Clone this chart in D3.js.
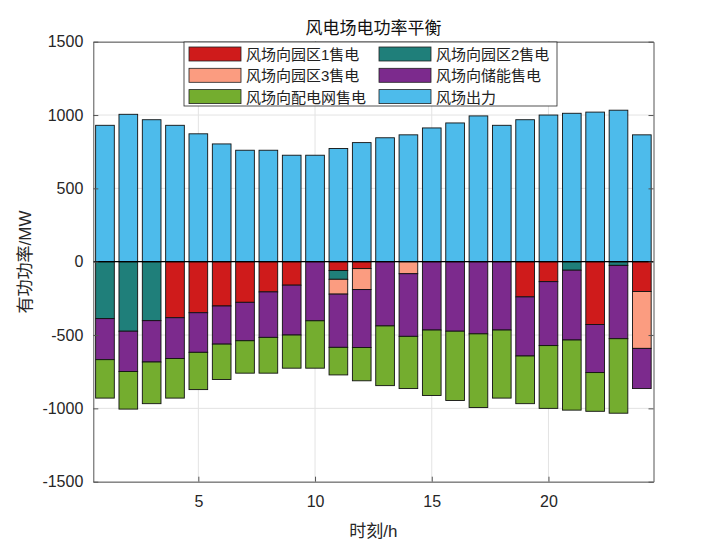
<!DOCTYPE html>
<html>
<head>
<meta charset="utf-8">
<script src="https://cdn.jsdelivr.net/npm/d3@7"></script>
<style>
  body { margin: 0; background: #fff; }
  svg { font-family: 'Liberation Sans', 'Noto Sans CJK SC', sans-serif; }
</style>
</head>
<body>
<svg id="chart"></svg>
<script>
// hours on the x axis
const hours = d3.range(1, 25)

// wind farm output (MW), drawn above zero
const windOut = [930, 1005, 968, 930, 872, 803, 760, 760, 726, 726, 772, 812,
  845, 865, 912, 946, 994, 930, 968, 1000, 1012, 1020, 1033, 865]

// sales from the wind farm (MW), drawn below zero in this order
const toPark1 = [0, 0, 0, 382, 348, 302, 277, 206, 160, 0, 60, 47,
  0, 0, 0, 0, 0, 0, 240, 136, 0, 428, 0, 203]
const toPark2 = [388, 474, 402, 0, 0, 0, 0, 0, 0, 0, 60, 0,
  0, 0, 0, 0, 0, 0, 0, 0, 58, 0, 25, 0]
const toPark3 = [0, 0, 0, 0, 0, 0, 0, 0, 0, 0, 101, 143,
  0, 82, 0, 0, 0, 0, 0, 0, 0, 0, 0, 388]
const toStorage = [280, 275, 282, 278, 270, 260, 262, 310, 340, 403, 363, 395,
  438, 427, 466, 474, 492, 466, 403, 436, 476, 328, 500, 274]
const toGrid = [262, 256, 284, 270, 254, 241, 221, 244, 226, 323, 188, 227,
  407, 356, 446, 472, 502, 464, 325, 428, 478, 264, 508, 0]

const xTicks = [5, 10, 15, 20]
const yTicks = [-1500, -1000, -500, 0, 500, 1000, 1500]

const seriesNames = ['风场向园区1售电', '风场向园区2售电', '风场向园区3售电',
  '风场向储能售电', '风场向配电网售电', '风场出力']
const seriesColors = ['#cf1b1b', '#1f7f7a', '#fb9c80', '#7c2a8d', '#74ad2f', '#4dbbeb']
const negSeries = [toPark1, toPark2, toPark3, toStorage, toGrid]

const W = 722, H = 541
const margin = { top: 41.7, right: 68.5, bottom: 59.3, left: 93.3 }
const width = W - margin.left - margin.right
const height = H - margin.top - margin.bottom

const svg = d3.select('#chart').attr('width', W).attr('height', H)
const g = svg.append('g')
  .attr('transform', 'translate(' + margin.left + ',' + margin.top + ')')

const xScale = d3.scaleLinear().domain([0.5, 24.5]).range([0, width])
const yScale = d3.scaleLinear().domain([-1500, 1500]).range([height, 0])
const barW = xScale(1.4) - xScale(0.6)

// grid
g.append('g').selectAll('line').data(xTicks).enter().append('line')
  .attr('x1', (d) => xScale(d)).attr('x2', (d) => xScale(d))
  .attr('y1', 0).attr('y2', height)
  .attr('stroke', '#e3e3e3').attr('stroke-width', 1)
g.append('g').selectAll('line').data(yTicks).enter().append('line')
  .attr('x1', 0).attr('x2', width)
  .attr('y1', (d) => yScale(d)).attr('y2', (d) => yScale(d))
  .attr('stroke', '#e3e3e3').attr('stroke-width', 1)

// stacked negative parts, then the output bar
const stacked = []
hours.forEach((h, i) => {
  let base = 0
  negSeries.forEach((s, k) => {
    const v = s[i]
    if (v > 0) stacked.push({ h: h, y0: base, y1: base - v, k: k })
    base -= v
  })
  stacked.push({ h: h, y0: 0, y1: windOut[i], k: 5 })
})

g.append('g').selectAll('rect').data(stacked).enter().append('rect')
  .attr('x', (d) => xScale(d.h) - barW / 2)
  .attr('width', barW)
  .attr('y', (d) => yScale(Math.max(d.y0, d.y1)))
  .attr('height', (d) => Math.abs(yScale(d.y0) - yScale(d.y1)))
  .attr('fill', (d) => seriesColors[d.k])
  .attr('stroke', '#111')
  .attr('stroke-width', 0.9)

// baseline
g.append('line')
  .attr('x1', 0).attr('x2', width)
  .attr('y1', yScale(0)).attr('y2', yScale(0))
  .attr('stroke', '#000').attr('stroke-width', 1.2)

// axes (ticks inward, box)
const axisColor = '#262626'
const plain = (d) => String(d)
const xAxis = d3.axisBottom(xScale).tickValues(xTicks).tickSizeInner(-5).tickSizeOuter(0).tickPadding(14).tickFormat(plain)
const yAxis = d3.axisLeft(yScale).tickValues(yTicks).tickSizeInner(-5).tickSizeOuter(0).tickPadding(10).tickFormat(plain)
const xTop = d3.axisTop(xScale).tickValues(xTicks).tickSizeInner(-5).tickSizeOuter(0).tickFormat('')
const yRight = d3.axisRight(yScale).tickValues(yTicks).tickSizeInner(-5).tickSizeOuter(0).tickFormat('')

g.append('g').attr('transform', `translate(0, ${height})`).call(xAxis)
g.append('g').call(yAxis)
g.append('g').call(xTop)
g.append('g').attr('transform', `translate(${width}, 0)`).call(yRight)

g.selectAll('.domain').attr('stroke', '#555').attr('stroke-width', 1)
g.selectAll('.tick line').attr('stroke', '#555')
g.selectAll('.tick text').attr('fill', axisColor).style('font-size', '16px')

// title and axis labels
svg.append('text')
  .attr('x', margin.left + width / 2).attr('y', 34)
  .attr('text-anchor', 'middle')
  .style('font-size', '17px').attr('fill', '#111')
  .text('风电场电功率平衡')

svg.append('text')
  .attr('x', margin.left + width / 2).attr('y', 537)
  .attr('text-anchor', 'middle')
  .style('font-size', '17px').attr('fill', axisColor)
  .text('时刻/h')

svg.append('text')
  .attr('transform', 'translate(31, 262) rotate(-90)')
  .attr('text-anchor', 'middle')
  .style('font-size', '17px').attr('fill', axisColor)
  .text('有功功率/MW')

// legend, two columns filled row by row
const legend = svg.append('g').attr('transform', 'translate(184, 42)')
legend.append('rect')
  .attr('width', 373).attr('height', 64)
  .attr('fill', '#fff').attr('stroke', '#262626').attr('stroke-width', 0.8)

const items = legend.selectAll('g.item').data(seriesNames).enter().append('g')
  .attr('class', 'item')
  .attr('transform', (d, i) => `translate(${5 + (i % 2) * 190}, ${5 + Math.floor(i / 2) * 21.3})`)
items.append('rect')
  .attr('width', 52).attr('height', 14)
  .attr('fill', (d, i) => seriesColors[i])
  .attr('stroke', '#222').attr('stroke-width', 0.8)
items.append('text')
  .attr('x', 57).attr('y', 13)
  .style('font-size', '15px').attr('fill', '#222')
  .text((d) => d)
</script>
</body>
</html>
